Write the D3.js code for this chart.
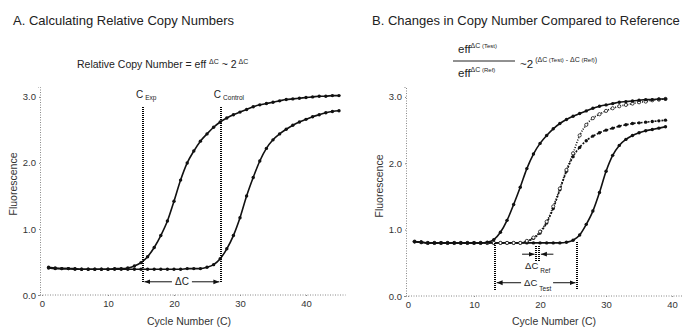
<!DOCTYPE html>
<html>
<head>
<meta charset="utf-8">
<script src="https://cdn.jsdelivr.net/npm/d3@7"></script>
<style>
  body { margin: 0; background: #fff; }
  svg { font-family: "Liberation Sans", Arial, sans-serif; }
  .axis text { font-size: 9.5px; fill: #333; }
  .axis path, .axis line { stroke: #888; stroke-dasharray: 1,1.5; }
  .curve { fill: none; stroke: #111; stroke-width: 1.6; }
</style>
</head>
<body>
<script>
// ---- data ----
var cyclesA = [1,2,3,4,5,6,7,8,9,10,11,12,13,14,15,16,17,18,19,20,21,22,23,24,25,26,27,28,29,30,31,32,33,34,35,36,37,38,39,40,41,42,43,44,45];
var expA = [0.42,0.41,0.40,0.40,0.40,0.39,0.39,0.39,0.39,0.39,0.40,0.40,0.41,0.44,0.49,0.58,0.72,0.90,1.12,1.42,1.74,2.00,2.18,2.33,2.44,2.54,2.62,2.68,2.73,2.77,2.81,2.85,2.88,2.90,2.92,2.94,2.96,2.97,2.98,2.99,3.00,3.01,3.01,3.02,3.02];
var controlA = [0.41,0.40,0.40,0.40,0.39,0.39,0.39,0.39,0.39,0.39,0.39,0.39,0.39,0.39,0.39,0.39,0.39,0.39,0.39,0.39,0.39,0.40,0.40,0.40,0.42,0.46,0.55,0.70,0.90,1.17,1.50,1.78,2.03,2.22,2.35,2.44,2.51,2.57,2.62,2.66,2.70,2.73,2.76,2.78,2.79];

var cyclesB = [1,2,3,4,5,6,7,8,9,10,11,12,13,14,15,16,17,18,19,20,21,22,23,24,25,26,27,28,29,30,31,32,33,34,35,36,37,38,39];
var test1B = [0.82,0.81,0.80,0.80,0.80,0.80,0.80,0.80,0.80,0.80,0.80,0.81,0.85,0.96,1.14,1.38,1.64,1.92,2.14,2.30,2.42,2.52,2.60,2.66,2.71,2.75,2.79,2.83,2.86,2.88,2.90,2.92,2.93,2.94,2.95,2.96,2.96,2.97,2.97];
var refAB = [0.82,0.81,0.80,0.80,0.80,0.80,0.80,0.80,0.80,0.80,0.80,0.80,0.80,0.80,0.80,0.80,0.80,0.83,0.88,0.97,1.12,1.35,1.62,1.90,2.15,2.42,2.58,2.68,2.74,2.79,2.83,2.86,2.88,2.90,2.92,2.93,2.95,2.96,2.97];
var refBB = [0.82,0.81,0.80,0.80,0.80,0.80,0.80,0.80,0.80,0.80,0.80,0.80,0.80,0.80,0.80,0.80,0.80,0.82,0.87,0.95,1.10,1.32,1.60,1.88,2.10,2.24,2.34,2.41,2.46,2.50,2.53,2.56,2.58,2.60,2.61,2.62,2.63,2.64,2.65];
var test2B = [0.82,0.81,0.80,0.80,0.80,0.80,0.80,0.80,0.80,0.80,0.80,0.80,0.80,0.80,0.80,0.80,0.80,0.80,0.80,0.80,0.80,0.80,0.80,0.81,0.84,0.92,1.08,1.28,1.56,1.88,2.12,2.27,2.36,2.42,2.46,2.49,2.51,2.53,2.55];

var xTicks = [0, 10, 20, 30, 40];
var yTicks = [0, 1, 2, 3];
var cExp = 15.3, cControl = 27.1;
var cTestStart = 13.2, cTestEnd = 25.6, cRef1 = 19.4, cRef2 = 19.9;

var svg = d3.select("body").append("svg").attr("width", 685).attr("height", 327);

var defs = svg.append("defs");
defs.append("marker").attr("id", "arr").attr("viewBox", "0 0 10 10")
  .attr("refX", 10).attr("refY", 5).attr("markerWidth", 6).attr("markerHeight", 6)
  .attr("orient", "auto-start-reverse")
  .append("path").attr("d", "M0,1L10,5L0,9Z").attr("fill", "#111");

// scales
var xA = d3.scaleLinear().domain([0, 46]).range([42, 345.6]);
var yA = d3.scaleLinear().domain([0, 3.15]).range([295, 87]);
var xB = d3.scaleLinear().domain([0, 41.5]).range([408, 682]);
var yB = d3.scaleLinear().domain([0, 3.15]).range([296, 87]);

function axes(x, y, x0) {
  svg.append("g").attr("class", "axis")
    .attr("transform", "translate(0," + y(0) + ")")
    .call(d3.axisBottom(x).tickValues(xTicks).tickSize(2).tickPadding(3))
    .select(".domain").attr("d", "M" + (x0 - 2) + ",0H" + x.range()[1]);
  svg.append("g").attr("class", "axis")
    .attr("transform", "translate(" + (x0 - 2) + ",0)")
    .call(d3.axisLeft(y).tickValues(yTicks).tickFormat(d3.format(".1f")).tickSize(2).tickPadding(2));
}
axes(xA, yA, xA(0));
axes(xB, yB, xB(0));

function series(x, y, cyc, vals, dash, open) {
  var pts = cyc.map(function (c, i) { return { c: c, v: vals[i] }; });
  var line = d3.line().curve(d3.curveMonotoneX)
    .x(function (d) { return x(d.c); })
    .y(function (d) { return y(d.v); });
  svg.append("path").datum(pts).attr("class", "curve")
    .attr("d", line)
    .attr("stroke-dasharray", dash || null)
    .attr("stroke-width", dash ? 1.3 : 1.6);
  svg.append("g").selectAll("circle").data(pts).join("circle")
    .attr("cx", function (d) { return x(d.c); })
    .attr("cy", function (d) { return y(d.v); })
    .attr("r", open ? 1.6 : 1.7)
    .attr("fill", open ? "#fff" : "#111")
    .attr("stroke", "#111").attr("stroke-width", open ? 0.8 : 0);
}

// panel A
series(xA, yA, cyclesA, expA);
series(xA, yA, cyclesA, controlA);

// panel B
series(xB, yB, cyclesB, test2B);
series(xB, yB, cyclesB, refBB, "2,1.5");
series(xB, yB, cyclesB, refAB, "1,1.5", true);
series(xB, yB, cyclesB, test1B);

function vdot(x, y1, y2) {
  var px = Math.round(x);
  svg.append("line").attr("x1", px).attr("x2", px).attr("y1", y1).attr("y2", y2)
    .attr("stroke", "#000").attr("stroke-width", 2).attr("stroke-dasharray", "1,1")
    .attr("shape-rendering", "crispEdges");
}
function arrow(x1, x2, y) {
  svg.append("line").attr("x1", x1).attr("x2", x2).attr("y1", y).attr("y2", y)
    .attr("stroke", "#111").attr("stroke-width", 1).attr("marker-end", "url(#arr)");
}

// panel A annotations
vdot(xA(cExp), yA(2.85), yA(0.18));
vdot(xA(cControl), yA(2.84), yA(0.18));
arrow((xA(cExp) + xA(cControl)) / 2 - 10, xA(cExp) + 1.5, yA(0.2));
arrow((xA(cExp) + xA(cControl)) / 2 + 10, xA(cControl) - 1.5, yA(0.2));
svg.append("text").attr("x", (xA(cExp) + xA(cControl)) / 2).attr("y", yA(0.2) + 3.5)
  .attr("text-anchor", "middle").attr("font-size", 10).attr("fill", "#222").text("ΔC");

var cl = svg.append("text").attr("x", xA(cExp) - 7).attr("y", 98).attr("font-size", 10).attr("fill", "#222");
cl.append("tspan").text("C");
cl.append("tspan").attr("font-size", 6.5).attr("dx", 2).attr("dy", 2).text("Exp");
var cc = svg.append("text").attr("x", xA(cControl) - 7).attr("y", 98).attr("font-size", 10).attr("fill", "#222");
cc.append("tspan").text("C");
cc.append("tspan").attr("font-size", 6.5).attr("dx", 2).attr("dy", 2).text("Control");

// panel B annotations
vdot(xB(cTestStart), yB(0.8), yB(0.09));
vdot(xB(cTestEnd), yB(0.82), yB(0.09));
vdot(xB(cRef1), yB(0.76), yB(0.53));
vdot(xB(cRef2), yB(0.76), yB(0.53));
arrow(xB(cRef1) - 14, xB(cRef1) - 1.5, yB(0.63));
arrow(xB(cRef2) + 14, xB(cRef2) + 1.5, yB(0.63));
var mid = (xB(cTestStart) + xB(cTestEnd)) / 2;
arrow(mid - 15, xB(cTestStart) + 1.5, yB(0.2));
arrow(mid + 17, xB(cTestEnd) - 1.5, yB(0.2));

var dr = svg.append("text").attr("x", xB(cRef1) - 11).attr("y", yB(0.4)).attr("font-size", 9.5).attr("fill", "#222");
dr.append("tspan").text("ΔC");
dr.append("tspan").attr("font-size", 6.5).attr("dx", 2).attr("dy", 4).text("Ref");
var dt = svg.append("text").attr("x", mid - 12).attr("y", yB(0.2) + 3.5).attr("font-size", 9.5).attr("fill", "#222");
dt.append("tspan").text("ΔC");
dt.append("tspan").attr("font-size", 6.5).attr("dx", 2).attr("dy", 5).text("Test");

// axis titles
function yTitle(x, cy) {
  svg.append("text").attr("transform", "translate(" + x + "," + cy + ") rotate(-90)")
    .attr("text-anchor", "middle").attr("font-size", 10.5).attr("fill", "#333").text("Fluorescence");
}
yTitle(17, 184);
yTitle(383, 186);
svg.append("text").attr("x", 189).attr("y", 325).attr("text-anchor", "middle")
  .attr("font-size", 10.5).attr("fill", "#333").text("Cycle Number (C)");
svg.append("text").attr("x", 554).attr("y", 325).attr("text-anchor", "middle")
  .attr("font-size", 10.5).attr("fill", "#333").text("Cycle Number (C)");

// titles
svg.append("text").attr("x", 13).attr("y", 25).attr("font-size", 13).attr("fill", "#222")
  .text("A. Calculating Relative Copy Numbers");
svg.append("text").attr("x", 372).attr("y", 25).attr("font-size", 13).attr("fill", "#222")
  .text("B. Changes in Copy Number Compared to Reference");

// formula A
var fa = svg.append("text").attr("x", 77).attr("y", 68).attr("font-size", 10.5).attr("fill", "#222");
fa.append("tspan").text("Relative Copy Number = eff ");
fa.append("tspan").attr("font-size", 7).attr("dy", -4).text("ΔC");
fa.append("tspan").attr("dy", 4).text(" ~ 2");
fa.append("tspan").attr("font-size", 7).attr("dy", -4).text(" ΔC");

// formula B
function effTerm(y, sub) {
  var t = svg.append("text").attr("x", 458).attr("y", y).attr("font-size", 11.5).attr("fill", "#222");
  t.append("tspan").text("eff");
  t.append("tspan").attr("font-size", 7).attr("dy", -5).text("ΔC");
  t.append("tspan").attr("font-size", 6).text(" (" + sub + ")");
}
effTerm(53, "Test");
effTerm(77, "Ref");
svg.append("line").attr("x1", 453).attr("x2", 515).attr("y1", 61).attr("y2", 61)
  .attr("stroke", "#222").attr("stroke-width", 1);
var fb = svg.append("text").attr("x", 520).attr("y", 68).attr("font-size", 11.5).attr("fill", "#222");
fb.append("tspan").text("~2");
fb.append("tspan").attr("font-size", 7).attr("dx", 2).attr("dy", -6).text("(ΔC");
fb.append("tspan").attr("font-size", 6).text(" (Test)");
fb.append("tspan").attr("font-size", 7).text(" - ΔC");
fb.append("tspan").attr("font-size", 6).text(" (Ref)");
fb.append("tspan").attr("font-size", 7).text(")");
</script>
</body>
</html>
